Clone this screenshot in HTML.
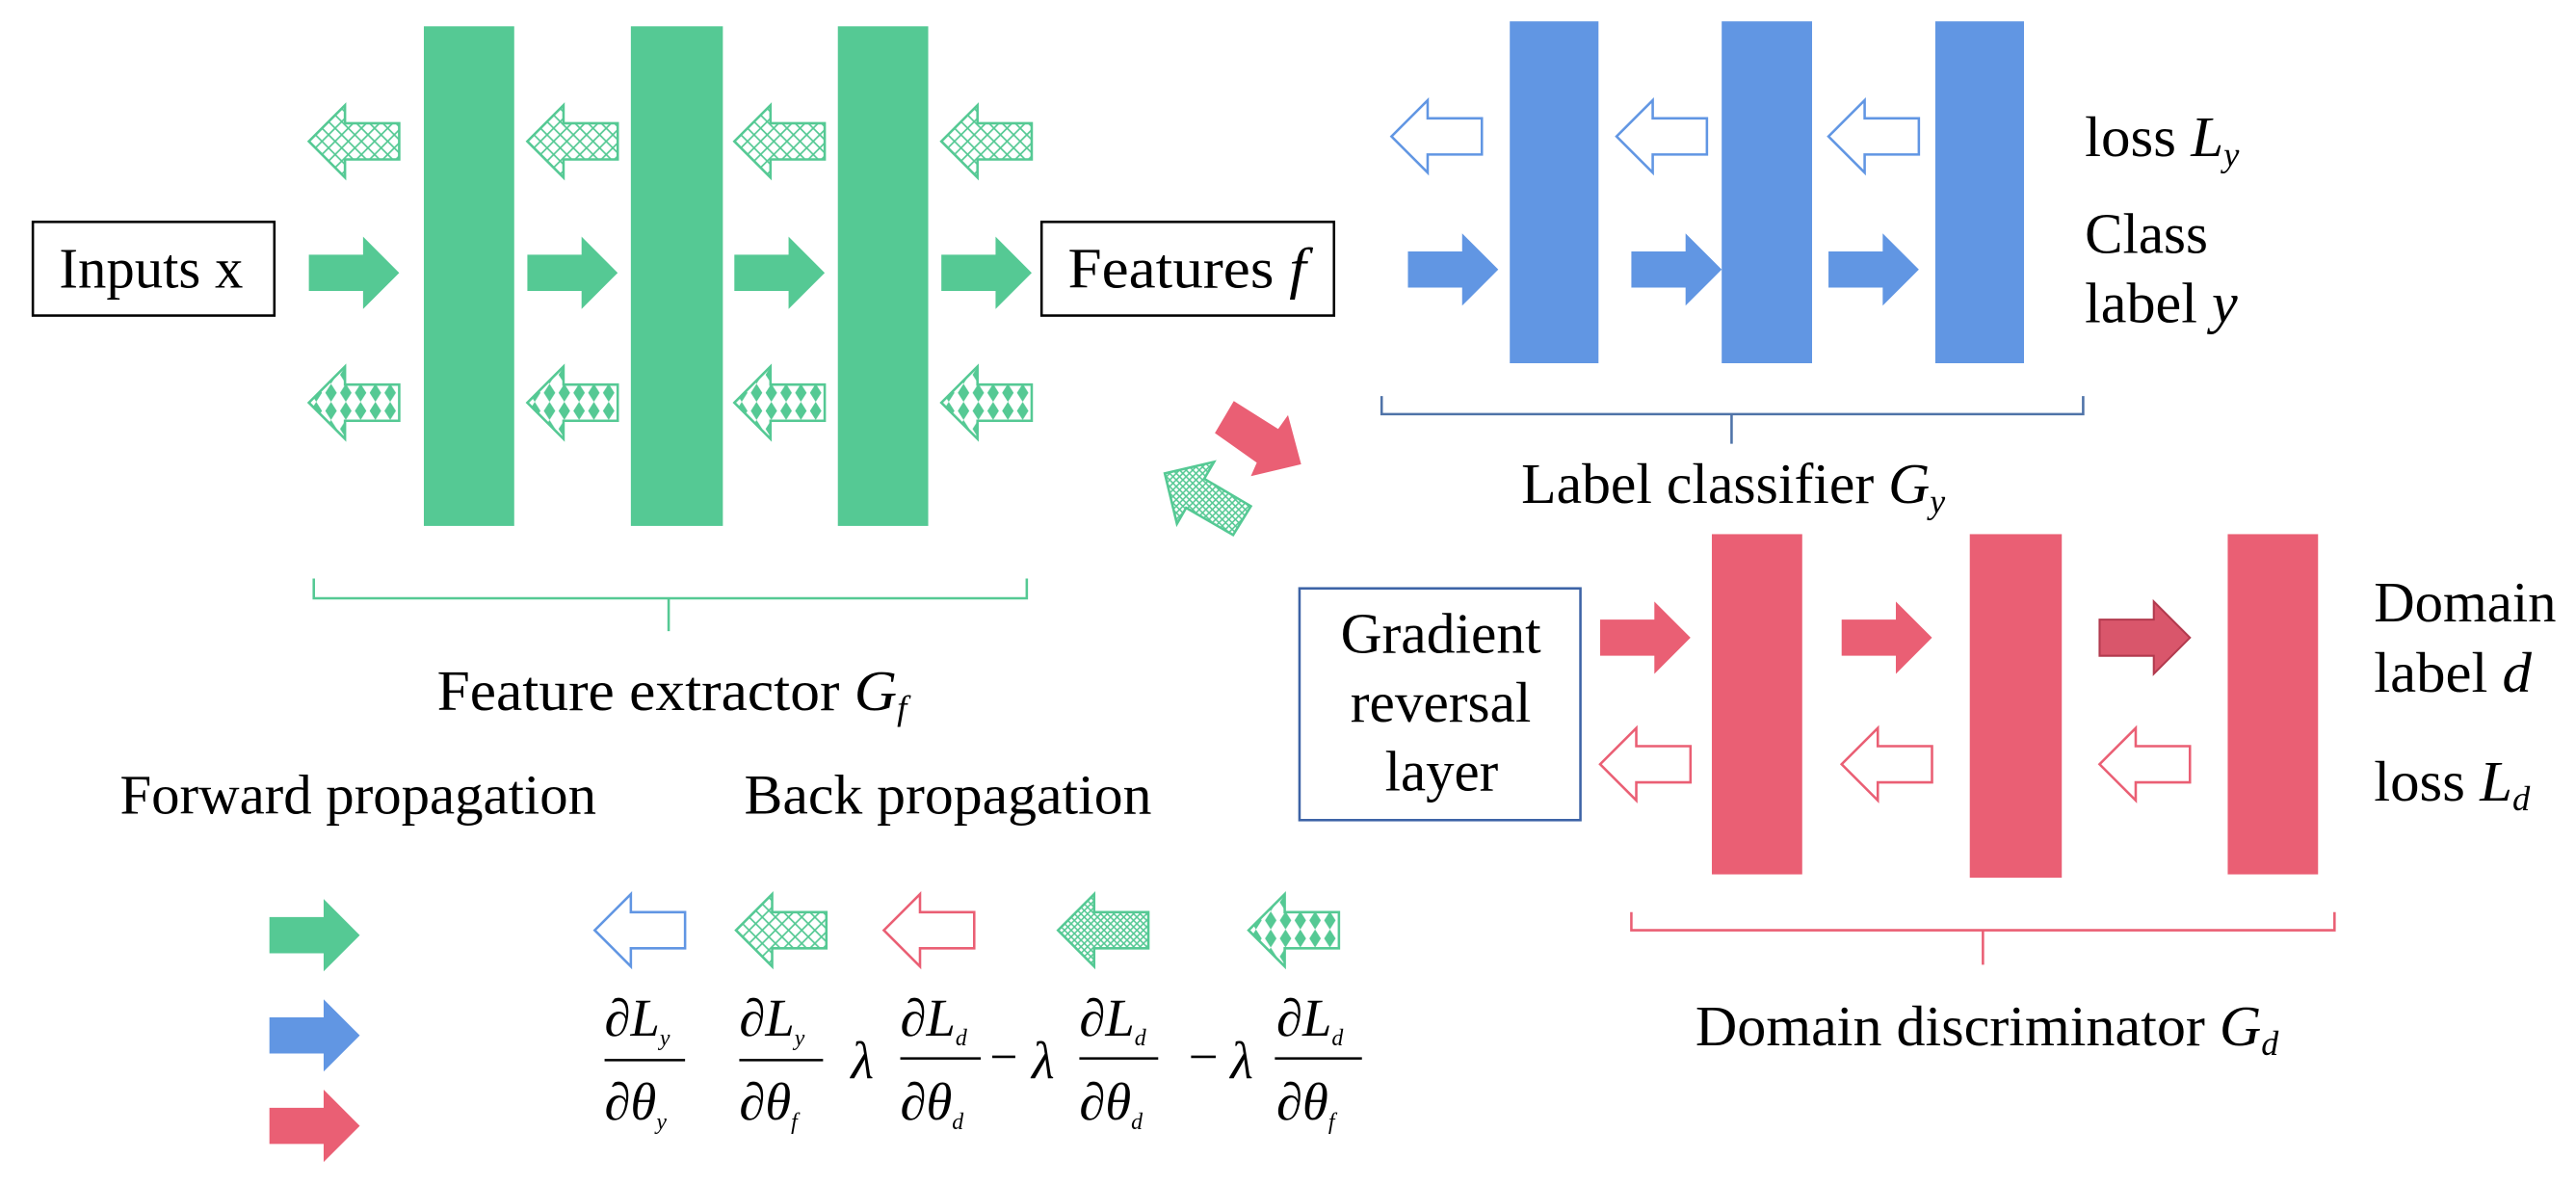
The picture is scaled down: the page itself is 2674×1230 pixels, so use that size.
<!DOCTYPE html>
<html><head><meta charset="utf-8"><style>
html,body{margin:0;padding:0;background:#fff;}
svg{display:block;}
text{font-family:"Liberation Serif",serif;fill:#000;}
</style></head><body>
<svg width="2674" height="1230" viewBox="0 0 1568 721" preserveAspectRatio="none" xmlns="http://www.w3.org/2000/svg">
<defs>
<pattern id="hatch" width="8" height="8" patternUnits="userSpaceOnUse">
<rect width="8" height="8" fill="#fff"/>
<path d="M0,0 L8,8 M8,0 L0,8" stroke="#55c994" stroke-width="1"/>
</pattern>
<pattern id="fine" width="4" height="4" patternUnits="userSpaceOnUse">
<rect width="4" height="4" fill="#fff"/>
<path d="M0,0 L4,4 M4,0 L0,4" stroke="#55c994" stroke-width="0.9"/>
</pattern>
<pattern id="diam" width="9" height="11" patternUnits="userSpaceOnUse" y="-0.5">
<rect width="9" height="11" fill="#fff"/>
<path d="M4.5,0 L8,5.5 L4.5,11 L1,5.5Z" fill="#55c994"/>
</pattern>
<path id="ra" d="M0,-11 H33 V-22 L55,0 L33,22 V11 H0Z"/>
<path id="la" d="M55,-11 H22 V-22 L0,0 L22,22 V11 H55Z"/>
</defs>

<g fill="#55c994">
<rect x="258" y="16" width="55" height="304"/>
<rect x="384" y="16" width="56" height="304"/>
<rect x="510" y="16" width="55" height="304"/>
</g>
<rect x="20" y="135" width="147" height="57" fill="none" stroke="#000" stroke-width="1.5"/>
<text x="36" y="175" font-size="35" textLength="112" lengthAdjust="spacingAndGlyphs">Inputs x</text>
<rect x="634" y="135" width="178" height="57" fill="none" stroke="#000" stroke-width="1.5"/>
<text x="650" y="175" font-size="35" textLength="145" lengthAdjust="spacingAndGlyphs">Features <tspan font-style="italic">f</tspan></text>

<g fill="#55c994">
<use href="#ra" x="188" y="166"/><use href="#ra" x="321" y="166"/><use href="#ra" x="447" y="166"/><use href="#ra" x="573" y="166"/>
</g>
<g fill="url(#hatch)" stroke="#55c994" stroke-width="1.5">
<use href="#la" x="188" y="86"/><use href="#la" x="321" y="86"/><use href="#la" x="447" y="86"/><use href="#la" x="573" y="86"/>
</g>
<g fill="url(#diam)" stroke="#55c994" stroke-width="1.5">
<use href="#la" x="188" y="245"/><use href="#la" x="321" y="245"/><use href="#la" x="447" y="245"/><use href="#la" x="573" y="245"/>
</g>

<path d="M191,352 V364 H625 V352 M407,364 V384" fill="none" stroke="#55c994" stroke-width="1.5"/>
<text x="266" y="432" font-size="35" textLength="286" lengthAdjust="spacingAndGlyphs">Feature extractor <tspan font-style="italic">G</tspan><tspan font-style="italic" font-size="21" dy="6">f</tspan></text>

<g fill="#6196e3">
<rect x="919" y="13" width="54" height="208"/>
<rect x="1048" y="13" width="55" height="208"/>
<rect x="1178" y="13" width="54" height="208"/>
<use href="#ra" x="857" y="164"/><use href="#ra" x="993" y="164"/><use href="#ra" x="1113" y="164"/>
</g>
<g fill="#fff" stroke="#6196e3" stroke-width="1.5">
<use href="#la" x="847" y="83"/><use href="#la" x="984" y="83"/><use href="#la" x="1113" y="83"/>
</g>
<text x="1269" y="95" font-size="35" textLength="94" lengthAdjust="spacingAndGlyphs">loss <tspan font-style="italic">L</tspan><tspan font-style="italic" font-size="21" dy="6">y</tspan></text>
<text x="1269" y="154" font-size="35" textLength="75" lengthAdjust="spacingAndGlyphs">Class</text>
<text x="1269" y="196" font-size="35" textLength="93" lengthAdjust="spacingAndGlyphs">label <tspan font-style="italic">y</tspan></text>
<path d="M841,241 V252 H1268 V241 M1054,252 V270" fill="none" stroke="#4f73a8" stroke-width="1.5"/>
<text x="926" y="306" font-size="35" textLength="258" lengthAdjust="spacingAndGlyphs">Label classifier <tspan font-style="italic">G</tspan><tspan font-style="italic" font-size="21" dy="6">y</tspan></text>

<polygon points="751,244 739.5,263.5 765,281.5 761.4,289.7 792,282.5 784,252.6 778,261" fill="#ea5f74"/>
<polygon points="709,288 739,281 733,291.3 761.4,308 750.6,325.5 722,309 716.4,318.7" fill="url(#fine)" stroke="#55c994" stroke-width="1.5"/>

<rect x="791" y="358" width="171" height="141" fill="none" stroke="#3d63a6" stroke-width="1.5"/>
<text x="816" y="397" font-size="35" textLength="122" lengthAdjust="spacingAndGlyphs">Gradient</text>
<text x="822" y="439" font-size="35" textLength="110" lengthAdjust="spacingAndGlyphs">reversal</text>
<text x="843" y="481" font-size="35" textLength="69" lengthAdjust="spacingAndGlyphs">layer</text>
<g fill="#ea5f74">
<rect x="1042" y="325" width="55" height="207"/>
<rect x="1199" y="325" width="56" height="209"/>
<rect x="1356" y="325" width="55" height="207"/>
<use href="#ra" x="974" y="388"/><use href="#ra" x="1121" y="388"/>
</g>
<use href="#ra" x="1278" y="388" fill="#d9566b" stroke="#b23a4e" stroke-width="1.2"/>
<g fill="#fff" stroke="#ea5f74" stroke-width="1.5">
<use href="#la" x="974" y="465"/><use href="#la" x="1121" y="465"/><use href="#la" x="1278" y="465"/>
</g>
<text x="1445" y="378" font-size="35" textLength="111" lengthAdjust="spacingAndGlyphs">Domain</text>
<text x="1445" y="421" font-size="35" textLength="96" lengthAdjust="spacingAndGlyphs">label <tspan font-style="italic">d</tspan></text>
<text x="1445" y="487" font-size="35" textLength="95" lengthAdjust="spacingAndGlyphs">loss <tspan font-style="italic">L</tspan><tspan font-style="italic" font-size="21" dy="6">d</tspan></text>
<path d="M993,555 V566 H1421 V555 M1207,566 V587" fill="none" stroke="#ea5f74" stroke-width="1.5"/>
<text x="1032" y="636" font-size="35" textLength="355" lengthAdjust="spacingAndGlyphs">Domain discriminator <tspan font-style="italic">G</tspan><tspan font-style="italic" font-size="21" dy="6">d</tspan></text>

<text x="73" y="495" font-size="34" textLength="290" lengthAdjust="spacingAndGlyphs">Forward propagation</text>
<text x="453" y="495" font-size="34" textLength="248" lengthAdjust="spacingAndGlyphs">Back propagation</text>
<use href="#ra" x="164" y="569" fill="#55c994"/>
<use href="#ra" x="164" y="630" fill="#6196e3"/>
<use href="#ra" x="164" y="685" fill="#ea5f74"/>
<use href="#la" x="362" y="566" fill="#fff" stroke="#6196e3" stroke-width="1.5"/>
<use href="#la" x="448" y="566" fill="url(#hatch)" stroke="#55c994" stroke-width="1.5"/>
<use href="#la" x="538" y="566" fill="#fff" stroke="#ea5f74" stroke-width="1.5"/>
<use href="#la" x="644" y="566" fill="url(#fine)" stroke="#55c994" stroke-width="1.5"/>
<use href="#la" x="760" y="566" fill="url(#diam)" stroke="#55c994" stroke-width="1.5"/>

<g font-style="italic" font-size="32">
<text x="368" y="630">∂L<tspan font-size="14" dy="6">y</tspan></text>
<line x1="368" y1="645" x2="417" y2="645" stroke="#000" stroke-width="1.5"/>
<text x="368" y="681">∂θ<tspan font-size="14" dy="6">y</tspan></text>

<text x="450" y="630">∂L<tspan font-size="14" dy="6">y</tspan></text>
<line x1="450" y1="645" x2="501" y2="645" stroke="#000" stroke-width="1.5"/>
<text x="450" y="681">∂θ<tspan font-size="14" dy="6">f</tspan></text>

<text x="518" y="656">λ</text>
<text x="548" y="630">∂L<tspan font-size="14" dy="6">d</tspan></text>
<line x1="548" y1="644" x2="597" y2="644" stroke="#000" stroke-width="1.5"/>
<text x="548" y="681">∂θ<tspan font-size="14" dy="6">d</tspan></text>

<line x1="604" y1="643" x2="618" y2="643" stroke="#000" stroke-width="1.5"/>
<text x="628" y="656">λ</text>
<text x="657" y="630">∂L<tspan font-size="14" dy="6">d</tspan></text>
<line x1="657" y1="644" x2="705" y2="644" stroke="#000" stroke-width="1.5"/>
<text x="657" y="681">∂θ<tspan font-size="14" dy="6">d</tspan></text>

<line x1="725" y1="643" x2="740" y2="643" stroke="#000" stroke-width="1.5"/>
<text x="749" y="656">λ</text>
<text x="777" y="630">∂L<tspan font-size="14" dy="6">d</tspan></text>
<line x1="776" y1="644" x2="829" y2="644" stroke="#000" stroke-width="1.5"/>
<text x="777" y="681">∂θ<tspan font-size="14" dy="6">f</tspan></text>
</g>
</svg>
</body></html>
